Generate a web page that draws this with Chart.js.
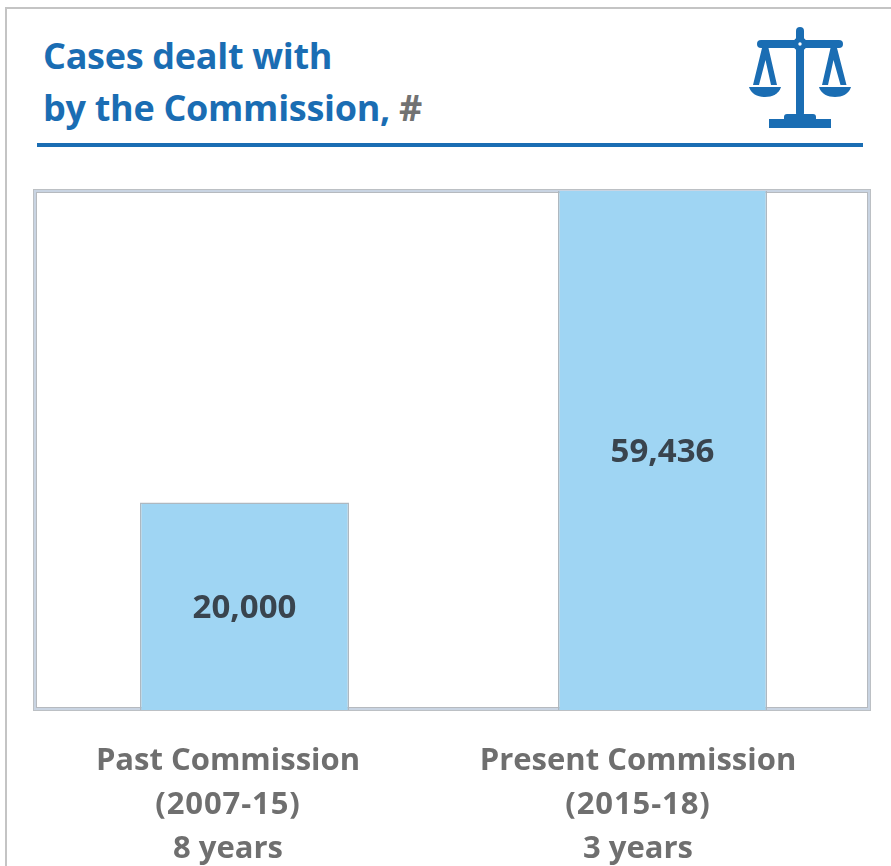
<!DOCTYPE html>
<html>
<head>
<meta charset="utf-8">
<title>Cases dealt with by the Commission</title>
<script src="https://cdn.jsdelivr.net/npm/chart.js@4.4.1/dist/chart.umd.min.js"></script>
<style>
    html, body { margin: 0; padding: 0; background: #fff; overflow: hidden; }
    body { width: 891px; height: 866px; position: relative; font-family: "Open Sans", sans-serif; }
    .sheet { position: absolute; left: 5px; top: 7px; width: 900px; height: 900px; border: 2px solid #c4c4c4; }
    .title { position: absolute; left: 43px; font-size: 36px; font-weight: 700; letter-spacing: -0.3px; line-height: 52px; color: #1a6db3; white-space: nowrap; }
    .title span { color: #727272; }
    .rule { position: absolute; left: 37px; top: 143px; width: 826px; height: 4px; background: #1a6db3; }
    .frame { position: absolute; left: 33px; top: 189px; width: 830px; height: 514px; border: 4px solid #c9d4e2; }
    .frame::after { content: ""; position: absolute; inset: -1px; border: 1px solid #b6babf; }
    .frame::before { content: ""; position: absolute; inset: -4px; border: 1px solid #bcc0c4; }
    svg { position: absolute; left: 0; top: 0; }
    canvas { position: absolute; left: 0; top: 0; }
</style>
</head>
<body>
<div class="sheet"></div>
<div class="title" style="top:30px">Cases dealt with</div>
<div class="title" style="top:82px">by the Commission, <span>#</span></div>
<div class="rule"></div>
<svg width="891" height="866" fill="#1a6db3">
    <rect x="757" y="40" width="86" height="8" rx="4"/>
    <rect x="796" y="27" width="8" height="90" rx="4"/>
    <circle cx="800" cy="44" r="7"/>
    <rect x="784" y="114" width="32" height="8" rx="3"/>
    <rect x="769" y="119" width="62" height="9"/>
    <path d="M762 48h6.5l8.5 37h-6l-5.5-25-6.5 25h-6z"/>
    <path d="M830.5 48h6.5l9.5 37h-6l-7-25-5.5 25h-6z"/>
    <path d="M749 87h32c-2 7-9 10-16 10s-14-3-16-10z"/>
    <path d="M819 87h32c-2 7-9 10-16 10s-14-3-16-10z"/>
    <circle cx="800" cy="44" r="1.7" fill="#fff"/>
</svg>
<div class="frame"></div>
<canvas id="chart" width="891" height="866"></canvas>
<script>
const categories = ['Past Commission', 'Present Commission'];
const periods = ['(2007-15)', '(2015-18)'];
const durations = ['8 years', '3 years'];
const cases = [20000, 59436];
// The source chart cuts its axis off at 50,000, so the tall bar runs out of the frame.
const axisMax = 50000;
// The captions do not sit under the bar centres in the source.
const captionShift = [-16.5, -24.5];

const valueLabels = {
    id: 'valueLabels',
    afterDatasetsDraw(chart) {
        const {ctx, chartArea} = chart;
        ctx.save();
        ctx.textAlign = 'center';
        ctx.textBaseline = 'middle';
        ctx.font = '700 33px "Open Sans"';
        ctx.fillStyle = '#39444e';
        chart.getDatasetMeta(0).data.forEach((bar, i) => {
            const top = Math.max(bar.y, chartArea.top);
            ctx.fillText(cases[i].toLocaleString('en-US'), bar.x, (top + bar.base) / 2 + 2);
        });
        ctx.restore();
    },
};

const captions = {
    id: 'captions',
    afterDraw(chart) {
        const {ctx} = chart;
        ctx.save();
        ctx.textAlign = 'center';
        ctx.textBaseline = 'middle';
        ctx.font = '700 31px "Open Sans"';
        ctx.fillStyle = '#6f6f6f';
        chart.getDatasetMeta(0).data.forEach((bar, i) => {
            const x = bar.x + captionShift[i];
            ctx.fillText(categories[i], x, 761);
            ctx.letterSpacing = '0.9px';
            ctx.fillText(periods[i], x, 805);
            ctx.letterSpacing = '0px';
            ctx.fillText(durations[i], x, 849);
        });
        ctx.restore();
    },
};

new Chart(document.getElementById('chart').getContext('2d'), {
    type: 'bar',
    data: {
        labels: categories,
        datasets: [{
            data: cases,
            backgroundColor: '#9fd5f3',
            borderColor: '#aeb8c0',
            borderWidth: 1.5,
            barPercentage: 0.5,
            categoryPercentage: 1,
        }],
    },
    options: {
        responsive: false,
        animation: false,
        layout: {padding: {left: 35.5, right: 19.5, top: 191, bottom: 156}},
        plugins: {legend: {display: false}, tooltip: {enabled: false}},
        scales: {
            x: {display: false},
            y: {display: false, min: 0, max: axisMax},
        },
    },
    plugins: [valueLabels, captions],
});
</script>
</body>
</html>
